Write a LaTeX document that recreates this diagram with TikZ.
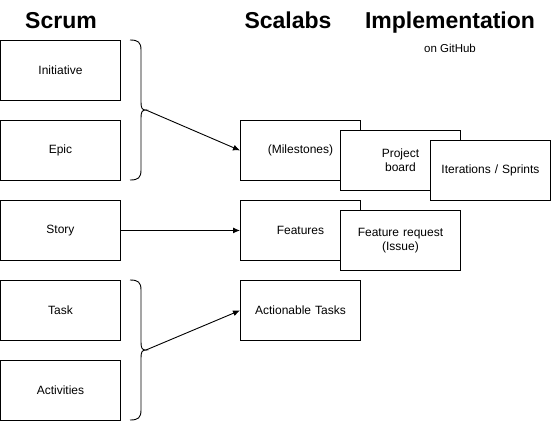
\documentclass[tikz,border=0pt]{standalone}
\usepackage{fontspec}
\setmainfont{Liberation Sans}
\usetikzlibrary{arrows.meta}
\begin{document}
\begin{tikzpicture}[x=1pt,y=-1pt,
  box/.style={draw=black,line width=0.9pt,fill=white,minimum width=120pt,minimum height=60pt,inner sep=0pt,anchor=north west,font=\fontsize{12}{14}\selectfont,align=center,text width=110pt},
  title/.style={font=\fontsize{23}{26}\selectfont\bfseries,anchor=base},
  brace/.style={draw=black,line width=0.9pt},
  conn/.style={draw=black,line width=0.9pt,-{Latex[length=7pt,width=6pt]}}]
\useasboundingbox (0,0) rectangle (551,421);
\node[title] (tscrum) at (61,28) {Scrum};
\node[title] (tscal) at (288,28) {Scalabs};
\node[title] (timpl) at (450,28) {Implementation};
\node[font=\fontsize{11.5}{13}\selectfont,anchor=base] (tgh) at (450,52) {on GitHub};

\node[box] (ini) at (0,40) {Initiative};
\node[box] (epic) at (0,120) {Epic};
\node[box] (story) at (0,200) {Story};
\node[box] (task) at (0,280) {Task};
\node[box] (act) at (0,360) {Activities};

\node[box] (mile) at (240,120) {(Milestones)};
\node[box] (proj) at (340,130) {Project\\board};
\node[box] (iter) at (430,140) {Iterations / Sprints};
\node[box] (feat) at (240,200) {Features};
\node[box] (freq) at (340,210) {Feature request\\(Issue)};
\node[box] (acts) at (240,280) {Actionable Tasks};

\draw[brace] (130,40) .. controls (138,40) and (141,42) .. (141,50) -- (141,102)
  .. controls (141,108) and (142,110) .. (146,110)
  .. controls (142,110) and (141,112) .. (141,118) -- (141,170)
  .. controls (141,178) and (138,180) .. (130,180);
\coordinate (b1) at (146,110);
\draw[brace] (130,280) .. controls (138,280) and (141,282) .. (141,290) -- (141,342)
  .. controls (141,348) and (142,350) .. (146,350)
  .. controls (142,350) and (141,352) .. (141,358) -- (141,410)
  .. controls (141,418) and (138,420) .. (130,420);
\coordinate (b2) at (146,350);

\draw[conn] (b1) -- (mile.west);
\draw[conn] (story.east) -- (feat.west);
\draw[conn] (b2) -- (acts.west);
\end{tikzpicture}
\end{document}
